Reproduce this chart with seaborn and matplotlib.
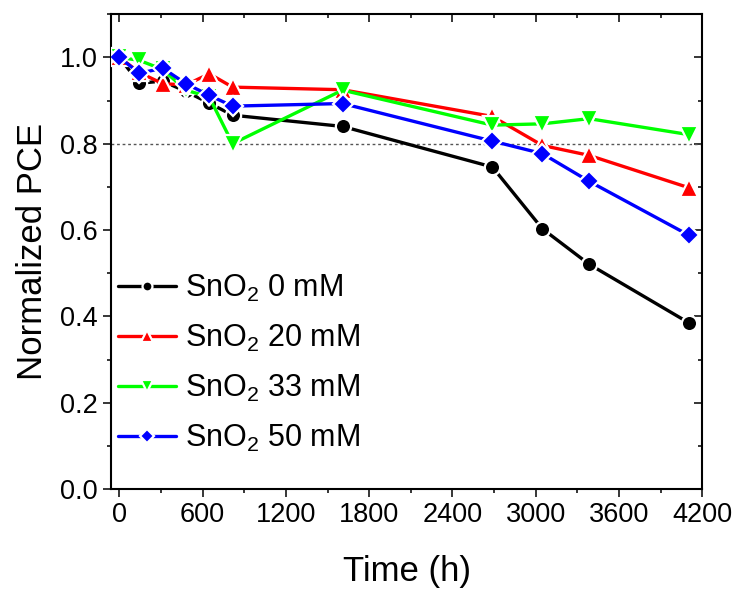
import matplotlib
matplotlib.use("Agg")
import matplotlib.pyplot as plt
import seaborn as sns
import pandas as pd
from matplotlib.ticker import MultipleLocator

time_h = [0, 144, 312, 480, 648, 816, 1608, 2688, 3048, 3384, 4104]
pce_0mM = [1.0, 0.940, 0.945, 0.921, 0.894, 0.866, 0.840, 0.746, 0.603, 0.521, 0.385]
pce_20mM = [1.0, 0.965, 0.939, 0.936, 0.962, 0.931, 0.925, 0.863, 0.796, 0.773, 0.698]
pce_33mM = [1.0, 0.993, 0.972, 0.924, 0.908, 0.800, 0.924, 0.843, 0.846, 0.858, 0.821]
pce_50mM = [1.0, 0.963, 0.975, 0.939, 0.912, 0.887, 0.893, 0.806, 0.777, 0.713, 0.588]

labels = ["SnO$_2$ 0 mM", "SnO$_2$ 20 mM", "SnO$_2$ 33 mM", "SnO$_2$ 50 mM"]
series = [pce_0mM, pce_20mM, pce_33mM, pce_50mM]
colors = ["#000000", "#FF0000", "#00FF00", "#0000FF"]
markers = ["o", "^", "v", "D"]
msizes = [11, 12.5, 12.5, 10.5]

sns.set_theme(style="ticks")
plt.rcParams["font.family"] = ["Liberation Sans", "DejaVu Sans"]
plt.rcParams["mathtext.fontset"] = "custom"
plt.rcParams["mathtext.rm"] = "Liberation Sans"
plt.rcParams["mathtext.it"] = "Liberation Sans"
for k in ["text.color", "axes.labelcolor", "xtick.color", "ytick.color", "axes.edgecolor"]:
    plt.rcParams[k] = "black"

fig = plt.figure(figsize=(7.4, 5.9), dpi=100)
ax = fig.add_axes([0.150, 0.171, 0.799, 0.805])

ax.axhline(0.8, color="#555555", lw=1.0, ls=(0, (2, 2)), zorder=1)

for i, (lab, vals) in enumerate(zip(labels, series)):
    df = pd.DataFrame({"Time (h)": time_h, "Normalized PCE": vals})
    sns.lineplot(data=df, x="Time (h)", y="Normalized PCE", ax=ax,
                 color=colors[i], marker=markers[i], markersize=msizes[i],
                 markeredgecolor="white", markeredgewidth=1.6,
                 lw=2.4, label=lab, zorder=3 + i)

ax.set_xlim(-60, 4200)
ax.set_ylim(0, 1.1)
ax.xaxis.set_major_locator(MultipleLocator(600))
ax.xaxis.set_minor_locator(MultipleLocator(300))
ax.yaxis.set_major_locator(MultipleLocator(0.2))
ax.yaxis.set_minor_locator(MultipleLocator(0.1))
ax.yaxis.set_major_formatter(matplotlib.ticker.FormatStrFormatter("%.1f"))

for s in ax.spines.values():
    s.set_linewidth(1.5)
    s.set_color("black")

ax.tick_params(axis="both", which="major", direction="out", length=5.5, width=1.1,
               labelsize=19.5, colors="black", pad=4)
ax.tick_params(axis="both", which="minor", direction="out", length=2.8, width=1.1)
ax.tick_params(which="both", top=True, right=True)
for tick in ax.xaxis.get_major_ticks() + ax.xaxis.get_minor_ticks():
    tick.tick2line.set_marker(matplotlib.lines.TICKDOWN)
for tick in ax.yaxis.get_major_ticks() + ax.yaxis.get_minor_ticks():
    tick.tick2line.set_marker(matplotlib.lines.TICKLEFT)

ax.set_xlabel("Time (h)", fontsize=25, labelpad=19, color="black")
ax.set_ylabel("Normalized PCE", fontsize=25, labelpad=8, color="black")

h, l = ax.get_legend_handles_labels()
leg = ax.legend(h, l, loc="lower left", bbox_to_anchor=(-0.02, 0.036), frameon=False,
                fontsize=22, handlelength=1.9, handletextpad=0.3,
                labelspacing=0.62, markerscale=0.65, borderaxespad=0.2)
for t in leg.get_texts():
    t.set_color("black")

fig.savefig("out.png", dpi=100)
